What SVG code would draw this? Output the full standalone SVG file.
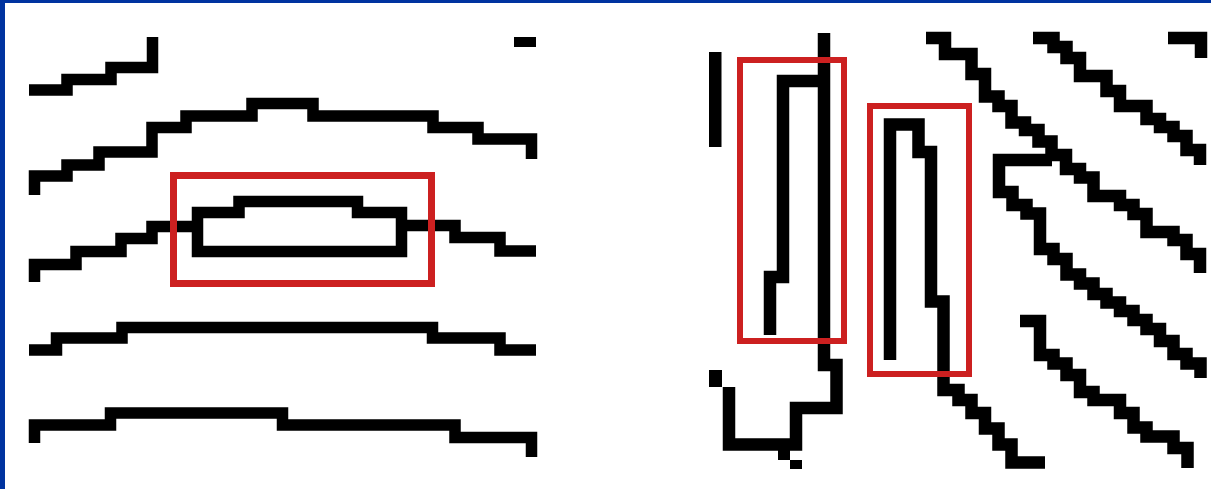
<svg xmlns="http://www.w3.org/2000/svg" width="1211" height="489" viewBox="0 0 1211 489">
  <style>
    .r { fill: none; stroke: #000; stroke-width: 11.5; stroke-linejoin: miter; stroke-linecap: butt; stroke-miterlimit: 10; }
    .rr { fill: none; stroke: #000; stroke-width: 12.5; stroke-linejoin: miter; stroke-linecap: butt; stroke-miterlimit: 10; }
    .box { fill: none; stroke: #cc2020; }
    .px { fill: #000; }
  </style>
  <rect x="0" y="0" width="1211" height="489" fill="#ffffff"/>
  <rect x="0" y="0" width="1211" height="3" fill="#0033a0"/>
  <rect x="0" y="0" width="5" height="489" fill="#0033a0"/>

  <g id="left-panel">
    <path class="r" d="M29,90 H67 V79.5 H111 V67.5 H152.5 V37"/>
    <rect class="px" x="514" y="37" width="22" height="10"/>
    <path class="r" d="M34.5,195 V176 H67 V165 H99 V152 H152 V127.5 H186 V116 H252 V103.5 H313 V116 H433 V127.5 H478 V139 H531.5 V159"/>
    <path class="r" d="M34.5,282 V264.5 H76 V251.5 H121 V238.5 H152 V226.5 H192"/>
    <path class="r" d="M197.5,251.5 V212.5 H239 V201.5 H357.5 V212.5 H401.5 V251.5 Z"/>
    <path class="r" d="M401.5,225.5 H455 V237.5 H500 V251 H536"/>
    <path class="r" d="M29,350 H56.5 V338 H122 V327.5 H432.5 V338 H500 V350 H536"/>
    <path class="r" d="M34.5,443 V425 H110.5 V413 H282.5 V425 H455 V437.5 H531.5 V457"/>
    <rect class="box" x="173.5" y="175.5" width="258" height="108" stroke-width="7"/>
  </g>

  <g id="right-panel">
    <rect class="px" x="709" y="52" width="12.5" height="95"/>
    <path class="rr" d="M824,33 V365 H836.5 V408 H796 V444.5 H729 V387"/>
    <rect class="px" x="709" y="370" width="13" height="17"/>
    <rect class="px" x="778" y="449" width="12" height="11"/>
    <rect class="px" x="790" y="460" width="12" height="9"/>
    <path class="rr" d="M824,81 H783 V277 H770 V335"/>
    <path class="rr" d="M890,360 V124.5 H918.5 V152 H931 V301.5 H943.5 V390 H958.5 V400 H971.5 V413 H985 V428.5 H998.5 V444.5 H1011.5 V462.5 H1045"/>
    <path class="rr" d="M926,38 H945 V54 H971.5 V74 H985 V96.5 H998.5 V106 H1011.5 V122.5 H1025 V130 H1038.5 V141.5 H1051.5 V155 H1066 V169 H1080 V177.5 H1093.5 V196 H1120 V205 H1133.5 V214 H1146.5 V232 H1173.5 V240 H1186.5 V254 H1200 V273"/>
    <path class="rr" d="M1052,160 H999 V192 H1012.5 V205 H1026.5 V213.5 H1040 V249 H1053.5 V259 H1066.5 V274.5 H1080 V283.5 H1093.5 V294 H1106.5 V302.5 H1120 V311 H1133.5 V320 H1146.5 V329 H1160 V341 H1173.5 V354 H1186.5 V363.5 H1200.5 V378"/>
    <path class="rr" d="M1033,38 H1053.5 V47 H1066.5 V58 H1080 V76 H1106.5 V91 H1120 V106 H1146.5 V119 H1160 V127 H1173.5 V136 H1186.5 V150 H1200 V165"/>
    <path class="rr" d="M1168,38 H1201 V58"/>
    <path class="rr" d="M1020,321 H1040 V355 H1053.5 V363.5 H1066.5 V375 H1080 V392 H1093.5 V400 H1120 V413 H1133.5 V427.5 H1146.5 V436.5 H1173.5 V448 H1187.5 V468"/>
    <rect class="box" x="740" y="60" width="104" height="281" stroke-width="6"/>
    <rect class="box" x="870" y="106" width="99" height="268" stroke-width="6"/>
  </g>
</svg>
